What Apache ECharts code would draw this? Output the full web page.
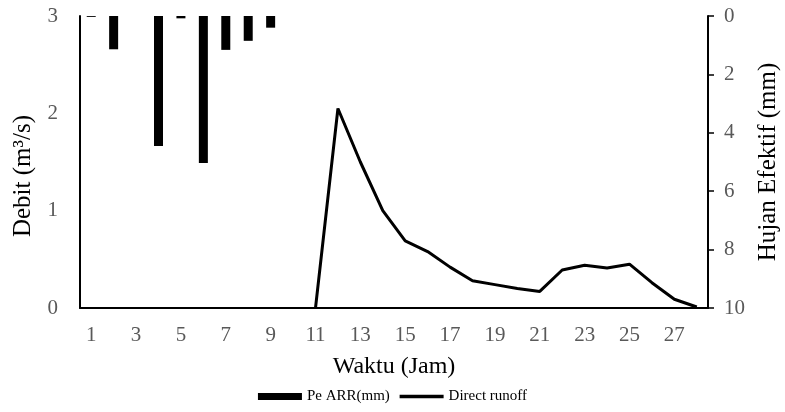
<!DOCTYPE html>
<html>
<head>
<meta charset="utf-8">
<script src="https://cdn.jsdelivr.net/npm/echarts@6/dist/echarts.min.js"></script>
<style>
  html, body { margin: 0; padding: 0; background: #fff; }
  #chart { width: 785px; height: 412px; }
</style>
</head>
<body>
<div id="chart"></div>
<script>
// waktu (jam) 1..28
var jam = [];
for (var i = 1; i <= 28; i++) jam.push(String(i));
// hujan efektif, Pe ARR (mm)
var peArr = [0.03, 1.14, 0, 4.45, 0.08, 5.03, 1.16, 0.85, 0.40, 0, 0, 0, 0, 0,
  0, 0, 0, 0, 0, 0, 0, 0, 0, 0, 0, 0, 0, 0];
// direct runoff (m3/s)
var runoff = [null, null, null, null, null, null, null, null, null, null,
  0, 2.05, 1.50, 1.00, 0.69, 0.58, 0.42, 0.28, 0.24, 0.20, 0.17, 0.39, 0.44,
  0.41, 0.45, 0.26, 0.09, 0.01];

var font = "'Liberation Serif', 'DejaVu Serif', serif";
var myChart = echarts.init(document.getElementById("chart"));
var option = {
  animation: false,
  textStyle: { fontFamily: font },
  grid: { left: 80, right: 77, top: 16, bottom: 104, outerBoundsMode: "none" },
  legend: {
    bottom: 3,
    left: "center",
    itemWidth: 44,
    itemHeight: 7,
    itemGap: 8,
    textStyle: { fontFamily: font, fontSize: 15, color: "#000" },
    data: [
      { name: "Pe ARR(mm)", icon: "rect" },
      { name: "Direct runoff", itemStyle: { opacity: 0 }, lineStyle: { width: 3.5 } },
    ],
  },
  xAxis: {
    type: "category",
    data: jam,
    name: "Waktu (Jam)",
    nameLocation: "middle",
    nameGap: 47,
    nameTextStyle: { fontFamily: font, fontSize: 24, color: "#000" },
    axisLine: { lineStyle: { color: "#000", width: 2 } },
    axisTick: { show: false },
    axisLabel: { interval: 1, margin: 17, fontFamily: font, fontSize: 21, color: "#595959" },
  },
  yAxis: [
    {
      type: "value",
      min: 0,
      max: 3,
      interval: 1,
      name: "Debit (m³/s)",
      nameLocation: "middle",
      nameGap: 44,
      nameTextStyle: { fontFamily: font, fontSize: 25, color: "#000", padding: [0, 28, 0, 0] },
      axisLine: { show: true, lineStyle: { color: "#000", width: 2 } },
      axisTick: { show: false },
      splitLine: { show: false },
      axisLabel: { margin: 22, fontFamily: font, fontSize: 21, color: "#595959" },
    },
    {
      type: "value",
      min: 0,
      max: 10,
      interval: 2,
      inverse: true,
      name: "Hujan Efektif (mm)",
      nameLocation: "middle",
      nameGap: 48,
      nameRotate: 90,
      nameTextStyle: { fontFamily: font, fontSize: 25, color: "#000" },
      axisLine: { show: true, lineStyle: { color: "#000", width: 2 } },
      axisTick: { show: true, length: 6, lineStyle: { color: "#000", width: 1.5 } },
      splitLine: { show: false },
      axisLabel: { margin: 16, fontFamily: font, fontSize: 21, color: "#595959" },
    },
  ],
  series: [
    {
      name: "Pe ARR(mm)",
      type: "bar",
      yAxisIndex: 1,
      barWidth: 9,
      itemStyle: { color: "#000" },
      data: peArr,
    },
    {
      name: "Direct runoff",
      type: "line",
      yAxisIndex: 0,
      symbol: "none",
      lineStyle: { color: "#000", width: 3 },
      itemStyle: { color: "#000" },
      data: runoff,
    },
  ],
};
myChart.setOption(option);
window.addEventListener("resize", function () {
  myChart.resize();
});
</script>
</body>
</html>
